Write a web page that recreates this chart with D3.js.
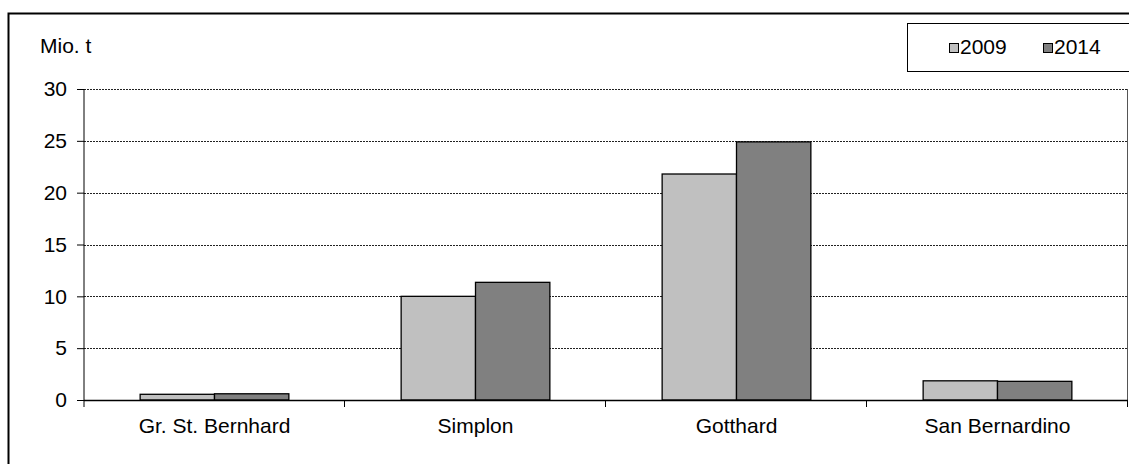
<!DOCTYPE html>
<html>
<head>
<meta charset="utf-8">
<script src="https://cdn.jsdelivr.net/npm/d3@7"></script>
<style>
  body { margin: 0; background: #fff; }
  text { font-family: "Liberation Sans", Arial, sans-serif; fill: #000; }
</style>
</head>
<body>
<div id="chart-area"></div>
<script>
// DATA
const passes = ["Gr. St. Bernhard", "Simplon", "Gotthard", "San Bernardino"]
const years = ["2009", "2014"]
const values2009 = [0.55, 10.0, 21.8, 1.85]
const values2014 = [0.6, 11.35, 24.9, 1.8]
const yTicks = [0, 5, 10, 15, 20, 25, 30]

// SIZE
const AREA_WIDTH = 1129
const AREA_HEIGHT = 464
const PLOT = { LEFT: 84, RIGHT: 1128, TOP: 89, BOTTOM: 400 }
const FONT = "21px"

const colors = { "2009": "#c0c0c0", "2014": "#808080" }

const svg = d3.select("#chart-area").append("svg")
	.attr("width", AREA_WIDTH)
	.attr("height", AREA_HEIGHT)

// outer frame (right and bottom fall outside the picture)
svg.append("rect")
	.attr("x", 8.5).attr("y", 13.5)
	.attr("width", 1140).attr("height", 480)
	.attr("fill", "none")
	.attr("stroke", "#000")
	.attr("stroke-width", 2)

// SCALES
const x = d3.scaleBand()
	.domain(passes)
	.range([PLOT.LEFT, PLOT.RIGHT])
	.paddingInner(0).paddingOuter(0)

const xInner = d3.scaleBand()
	.domain(years)
	.range([0, x.bandwidth()])
	.paddingInner(0)
	.paddingOuter(0.755)

const y = d3.scaleLinear()
	.domain([0, 30])
	.range([PLOT.BOTTOM, PLOT.TOP])

// gridlines
svg.append("g")
	.selectAll("line")
	.data(yTicks.filter(d => d > 0))
	.join("line")
	.attr("x1", PLOT.LEFT).attr("x2", PLOT.RIGHT)
	.attr("y1", d => Math.round(y(d)) + 0.5)
	.attr("y2", d => Math.round(y(d)) + 0.5)
	.attr("stroke", "#222")
	.attr("stroke-dasharray", "2,1")
	.attr("stroke-width", 1)

// plot right border
svg.append("line")
	.attr("x1", PLOT.RIGHT - 0.5).attr("x2", PLOT.RIGHT - 0.5)
	.attr("y1", PLOT.TOP).attr("y2", PLOT.BOTTOM)
	.attr("stroke", "#555")

// BARS
const rows = passes.map((p, i) => ({ pass: p, "2009": values2009[i], "2014": values2014[i] }))

svg.append("g")
	.selectAll("g")
	.data(rows)
	.join("g")
	.attr("transform", d => `translate(${x(d.pass)},0)`)
	.selectAll("rect")
	.data(d => years.map(k => ({ key: k, value: d[k] })))
	.join("rect")
	.attr("x", d => xInner(d.key))
	.attr("y", d => y(d.value))
	.attr("width", xInner.bandwidth())
	.attr("height", d => y(0) - y(d.value))
	.attr("fill", d => colors[d.key])
	.attr("stroke", "#000")
	.attr("stroke-width", 1.3)

// AXES
const yAxisCall = d3.axisLeft(y)
	.tickValues(yTicks)
	.tickSize(7)
	.tickPadding(10)

const yAxis = svg.append("g")
	.attr("transform", `translate(${PLOT.LEFT},0)`)
	.call(yAxisCall)
yAxis.select(".domain").remove()
yAxis.append("line")
	.attr("x1", 0).attr("x2", 0)
	.attr("y1", PLOT.TOP).attr("y2", PLOT.BOTTOM + 7)
	.attr("stroke", "#000")
yAxis.selectAll(".tick line").attr("stroke", "#000")
yAxis.selectAll(".tick text")
	.attr("font-size", FONT)
	.attr("font-family", "Liberation Sans, Arial, sans-serif")
	.attr("fill", "#000")

const xAxisCall = d3.axisBottom(x)
	.tickSize(0)
	.tickPadding(18)

const xAxis = svg.append("g")
	.attr("transform", `translate(0,${PLOT.BOTTOM})`)
	.call(xAxisCall)
xAxis.select(".domain").remove()
xAxis.append("line")
	.attr("x1", PLOT.LEFT).attr("x2", PLOT.RIGHT)
	.attr("y1", 0.5).attr("y2", 0.5)
	.attr("stroke", "#000")
	.attr("stroke-width", 1.5)
xAxis.selectAll(".tick text")
	.attr("font-size", FONT)
	.attr("font-family", "Liberation Sans, Arial, sans-serif")
	.attr("fill", "#000")

// category boundary ticks
xAxis.append("g")
	.selectAll("line")
	.data(passes.slice(1).map(p => x(p)).concat([PLOT.RIGHT]))
	.join("line")
	.attr("x1", d => d - 0.5).attr("x2", d => d - 0.5)
	.attr("y1", 0).attr("y2", 7)
	.attr("stroke", "#000")

// unit label
svg.append("text")
	.attr("x", 40).attr("y", 53)
	.attr("font-size", FONT)
	.text("Mio. t")

// LEGEND
svg.append("rect")
	.attr("x", 907.5).attr("y", 23.5)
	.attr("width", 240).attr("height", 48)
	.attr("fill", "#fff")
	.attr("stroke", "#000")
	.attr("stroke-width", 1)

const legendX = [949, 1043]
years.forEach((k, i) => {
	svg.append("rect")
		.attr("x", legendX[i] + 0.5).attr("y", 43.5)
		.attr("width", 9).attr("height", 9)
		.attr("fill", colors[k])
		.attr("stroke", "#000")
		.attr("stroke-width", 1)
	svg.append("text")
		.attr("x", legendX[i] + 11).attr("y", 54)
		.attr("font-size", FONT)
		.text(k)
})
</script>
</body>
</html>
